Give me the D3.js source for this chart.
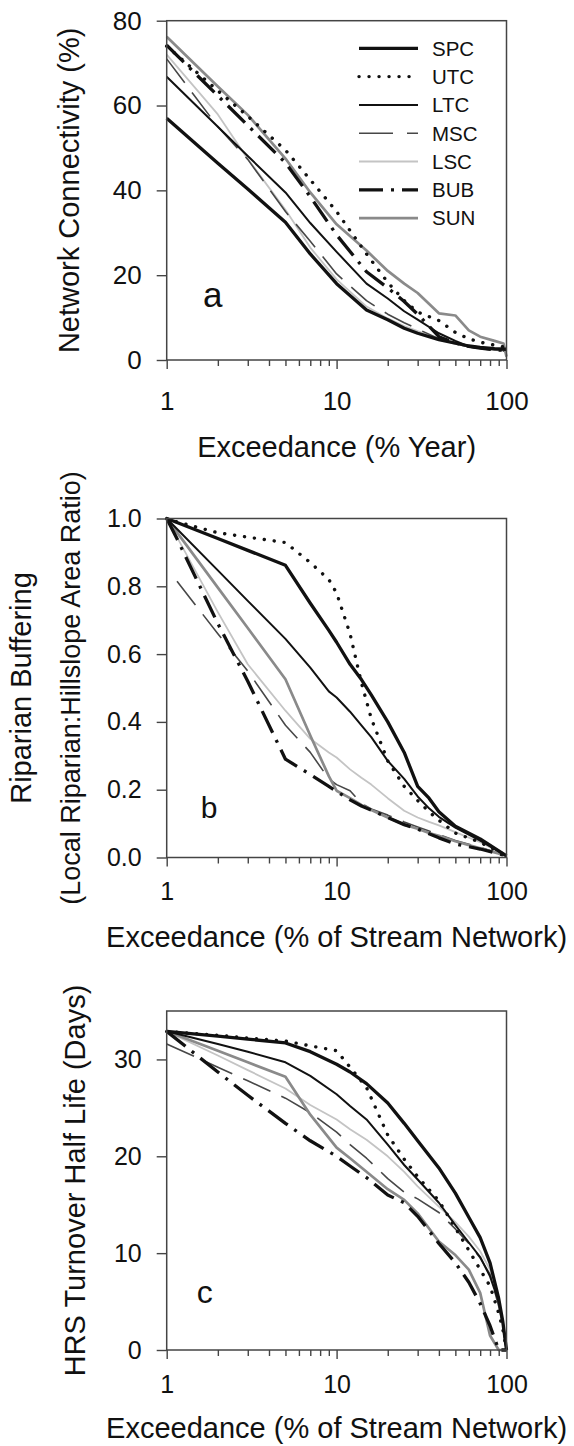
<!DOCTYPE html>
<html>
<head>
<meta charset="utf-8">
<script src="https://cdn.jsdelivr.net/npm/d3@7"></script>
<style>
  html, body { margin: 0; padding: 0; background: #fff; }
  svg { display: block; font-family: "Liberation Sans", Arial, Helvetica, sans-serif; }
</style>
</head>
<body>
<svg id="fig" width="574" height="1446"></svg>
<script>
// ---------- data ----------
const seriesNames = ["SPC", "UTC", "LTC", "MSC", "LSC", "BUB", "SUN"];

// (a) network connectivity (%) vs exceedance (% year)
const exceedA = [1, 2, 3, 5, 7, 10, 15, 20, 25, 30, 40, 50, 60, 70, 85, 96, 100];
const spcA = [57.0, 46.4, 40.3, 32.5, 25.0, 18.0, 11.8, 9.5, 7.5, 6.3, 4.8, 4.0, 3.3, 3.0, 2.7, 2.6, 2.5];
const utcA = [74.0, 63.5, 57.5, 49.5, 42.5, 35.0, 25.0, 18.3, 14.0, 11.3, 9.3, 6.5, 5.0, 4.2, 3.5, 3.1, 3.0];
const ltcA = [66.8, 55.0, 48.1, 39.5, 32.3, 25.5, 18.0, 14.5, 11.5, 9.5, 6.3, 4.5, 3.2, 2.8, 2.5, 2.4, 2.4];
const mscA = [71.0, 55.0, 47.3, 35.0, 28.0, 20.3, 14.0, 10.8, 8.8, 7.3, 5.0, 3.8, 3.1, 2.7, 2.3, 2.1, 2.0];
const lscA = [72.0, 57.9, 47.4, 35.4, 26.5, 19.0, 12.6, 9.8, 8.0, 6.8, 5.0, 3.8, 3.2, 2.8, 2.4, 2.1, 2.0];
const bubA = [74.2, 62.3, 55.3, 46.5, 38.5, 29.5, 20.8, 17.0, 13.8, 10.8, 5.5, 4.0, 3.2, 2.8, 2.4, 2.3, 2.2];
const sunA = [76.2, 64.5, 57.8, 47.5, 39.5, 32.0, 25.8, 21.0, 18.0, 15.8, 11.0, 10.5, 7.0, 5.5, 4.5, 3.9, 0.8];

// (b) riparian buffering ratio vs exceedance (% of stream network)
const exceedB = [1, 1.15, 2, 3, 5, 7, 9, 10, 12, 14, 16, 20, 25, 30, 35, 40, 50, 70, 100];
const spcB = [1.0, 0.988, 0.941, 0.906, 0.862, 0.75, 0.67, 0.635, 0.57, 0.525, 0.48, 0.40, 0.31, 0.21, 0.175, 0.135, 0.092, 0.055, 0.005];
const utcB = [1.0, 0.99, 0.958, 0.945, 0.929, 0.87, 0.82, 0.78, 0.66, 0.515, 0.41, 0.285, 0.21, 0.168, 0.135, 0.11, 0.072, 0.045, 0.005];
const ltcB = [1.0, 0.969, 0.847, 0.757, 0.645, 0.56, 0.49, 0.472, 0.43, 0.39, 0.355, 0.285, 0.232, 0.18, 0.145, 0.12, 0.088, 0.05, 0.005];
const mscB = [null, 0.815, 0.66, 0.55, 0.39, 0.31, 0.232, 0.215, 0.197, 0.16, 0.143, 0.125, 0.105, 0.09, 0.078, 0.068, 0.05, 0.03, 0.005];
const lscB = [1.0, 0.945, 0.724, 0.57, 0.433, 0.35, 0.31, 0.295, 0.26, 0.235, 0.215, 0.175, 0.138, 0.118, 0.105, 0.095, 0.075, 0.045, 0.005];
const bubB = [1.0, 0.94, 0.69, 0.52, 0.29, 0.245, 0.21, 0.195, 0.17, 0.152, 0.14, 0.118, 0.097, 0.084, 0.07, 0.058, 0.04, 0.025, 0.005];
const sunB = [1.0, 0.959, 0.796, 0.677, 0.526, 0.36, 0.24, 0.197, 0.175, 0.155, 0.14, 0.118, 0.097, 0.085, 0.072, 0.064, 0.048, 0.027, 0.005];

// (c) HRS turnover half life (days) vs exceedance (% of stream network)
const exceedC = [1, 2, 3, 5, 7, 10, 12, 15, 20, 25, 30, 40, 50, 60, 70, 80, 90, 95, 100];
const spcC = [32.9, 32.4, 32.1, 31.7, 30.8, 29.5, 28.7, 27.5, 25.5, 23.4, 21.6, 18.8, 16.2, 13.7, 11.6, 9.0, 5.3, 3.0, 0];
const utcC = [32.9, 32.5, 32.2, 31.9, 31.4, 30.9, 29.2, 27.1, 22.2, 19.7, 17.9, 15.4, 12.6, 10.3, 8.3, 6.6, 3.8, 2.2, 0];
const ltcC = [32.9, 31.6, 30.8, 29.7, 28.3, 26.4, 25.2, 23.8, 21.2, 19.1, 17.6, 15.2, 12.9, 11.1, 9.6, 7.6, 5.0, 3.0, 0];
const mscC = [31.6, 29.2, 27.8, 26.0, 24.5, 22.5, 21.2, 19.8, 17.7, 16.3, 15.6, 14.2, 12.5, 11.0, 9.5, 7.8, 4.5, 2.5, 0];
const lscC = [32.9, 30.4, 28.9, 27.0, 25.3, 23.8, 22.8, 21.7, 20.0, 18.4, 16.9, 14.8, 13.2, 11.7, 10.2, 8.3, 4.8, 2.7, 0];
const bubC = [32.9, 28.7, 26.3, 23.4, 21.6, 20.0, 19.0, 17.8, 16.0, 15.2, 13.8, 11.0, 9.0, 7.0, 4.8, 2.5, 0, 0, 0];
const sunC = [32.9, 30.9, 29.7, 28.2, 24.3, 20.9, 19.8, 18.4, 16.6, 15.5, 14.1, 11.2, 9.8, 8.3, 5.9, 1.5, 0, 0, 0];

// axis ticks
const xMajorTicks = [1, 10, 100];
const xMinorTicks = [2, 3, 4, 5, 6, 7, 8, 9, 20, 30, 40, 50, 60, 70, 80, 90];
const yTicksA = [0, 20, 40, 60, 80];
const yTicksB = [0, 0.2, 0.4, 0.6, 0.8, 1.0];
const yTicksC = [0, 10, 20, 30];

// ---------- line styles ----------
const styles = {
  SPC: { stroke: "#111", width: 3.3, dash: null, cap: "butt" },
  UTC: { stroke: "#111", width: 3.4, dash: "0.1 9.9", cap: "round" },
  LTC: { stroke: "#111", width: 2.0, dash: null, cap: "butt" },
  MSC: { stroke: "#474747", width: 1.6, dash: "30 12", cap: "butt" },
  LSC: { stroke: "#c4c4c4", width: 1.8, dash: null, cap: "butt" },
  BUB: { stroke: "#111", width: 3.3, dash: "24 8 3 8", cap: "butt" },
  SUN: { stroke: "#8a8a8a", width: 2.7, dash: null, cap: "butt" }
};
const drawOrder = ["LSC", "MSC", "SUN", "LTC", "SPC", "UTC", "BUB"];

// ---------- layout ----------
const X0 = 166.7, X1 = 506.5;
const panels = [
  {
    top: 20.7, bottom: 360, exceed: exceedA,
    series: { SPC: spcA, UTC: utcA, LTC: ltcA, MSC: mscA, LSC: lscA, BUB: bubA, SUN: sunA },
    yDomain: [0, 80], yTicks: yTicksA, fmt: d3.format("d"), tickFont: 26, xPad: 22.5,
    letter: "a", letterX: 203, letterY: 307, letterSize: 35,
    xTitle: "Exceedance (% Year)", xTitleY: 457,
    yTitles: [{ text: "Network Connectivity (%)", x: 79, size: 29 }],
    legend: true
  },
  {
    top: 518.5, bottom: 857.5, exceed: exceedB,
    series: { SPC: spcB, UTC: utcB, LTC: ltcB, MSC: mscB, LSC: lscB, BUB: bubB, SUN: sunB },
    yDomain: [0, 1], yTicks: yTicksB, fmt: d3.format(".1f"), tickFont: 25, xPad: 15.5,
    letter: "b", letterX: 200.7, letterY: 818, letterSize: 30,
    xTitle: "Exceedance (% of Stream Network)", xTitleY: 947,
    yTitles: [
      { text: "Riparian Buffering", x: 31, size: 29 },
      { text: "(Local Riparian:Hillslope Area Ratio)", x: 80, size: 27 }
    ],
    legend: false
  },
  {
    top: 1011, bottom: 1350, exceed: exceedC,
    series: { SPC: spcC, UTC: utcC, LTC: ltcC, MSC: mscC, LSC: lscC, BUB: bubC, SUN: sunC },
    yDomain: [0, 35], yTicks: yTicksC, fmt: d3.format("d"), tickFont: 25, xPad: 16,
    letter: "c", letterX: 196.7, letterY: 1303, letterSize: 32,
    xTitle: "Exceedance (% of Stream Network)", xTitleY: 1438,
    yTitles: [{ text: "HRS Turnover Half Life (Days)", x: 85, size: 29 }],
    legend: false
  }
];

const svg = d3.select("#fig");
const x = d3.scaleLog().domain([1, 100]).range([X0, X1]);
const xMid = (X0 + X1) / 2;

panels.forEach(p => {
  const y = d3.scaleLinear().domain(p.yDomain).range([p.bottom, p.top]);
  const g = svg.append("g");

  // curves
  const line = d3.line()
    .defined(d => d.v !== null)
    .x(d => x(d.e))
    .y(d => y(d.v));
  drawOrder.forEach(name => {
    const st = styles[name];
    const pts = p.exceed.map((e, i) => ({ e: e, v: p.series[name][i] }));
    g.append("path")
      .datum(pts)
      .attr("d", line)
      .attr("fill", "none")
      .attr("stroke", st.stroke)
      .attr("stroke-width", st.width)
      .attr("stroke-linecap", st.cap)
      .attr("stroke-linejoin", "round")
      .attr("stroke-dasharray", st.dash);
  });

  // frame
  g.append("rect")
    .attr("x", X0).attr("y", p.top)
    .attr("width", X1 - X0).attr("height", p.bottom - p.top)
    .attr("fill", "none").attr("stroke", "#444").attr("stroke-width", 1.5);

  // x axis: minor then major ticks
  const minorAxis = g.append("g")
    .attr("transform", `translate(0,${p.bottom})`)
    .call(d3.axisBottom(x).tickValues(xMinorTicks).tickSize(6).tickFormat(""));
  minorAxis.select(".domain").remove();
  const majorAxis = g.append("g")
    .attr("transform", `translate(0,${p.bottom})`)
    .call(d3.axisBottom(x).tickValues(xMajorTicks).tickSize(9).tickPadding(p.xPad).tickFormat(d3.format("d")));
  majorAxis.select(".domain").remove();

  // y axis
  const yAxis = g.append("g")
    .attr("transform", `translate(${X0},0)`)
    .call(d3.axisLeft(y).tickValues(p.yTicks).tickSize(10).tickPadding(15).tickFormat(p.fmt));
  yAxis.select(".domain").remove();

  [minorAxis, majorAxis, yAxis].forEach(a => {
    a.selectAll(".tick line").attr("stroke", "#444").attr("stroke-width", 1.4);
    a.selectAll(".tick text")
      .attr("fill", "#111")
      .style("font-size", p.tickFont + "px")
      .style("font-family", "'Liberation Sans', Arial, sans-serif");
  });

  // panel letter
  g.append("text")
    .attr("x", p.letterX).attr("y", p.letterY)
    .attr("fill", "#111")
    .style("font-size", p.letterSize + "px")
    .text(p.letter);

  // axis titles
  g.append("text")
    .attr("x", xMid).attr("y", p.xTitleY)
    .attr("text-anchor", "middle")
    .attr("fill", "#111")
    .style("font-size", "29px")
    .text(p.xTitle);

  const yc = (p.top + p.bottom) / 2;
  p.yTitles.forEach(t => {
    g.append("text")
      .attr("transform", `translate(${t.x},${yc}) rotate(-90)`)
      .attr("text-anchor", "middle")
      .attr("fill", "#111")
      .style("font-size", t.size + "px")
      .text(t.text);
  });

  // legend
  if (p.legend) {
    const lg = g.append("g");
    seriesNames.forEach((name, i) => {
      const st = styles[name];
      const ly = 48.3 + i * 28.3;
      lg.append("line")
        .attr("x1", 359).attr("x2", 418)
        .attr("y1", ly).attr("y2", ly)
        .attr("stroke", st.stroke)
        .attr("stroke-width", st.width)
        .attr("stroke-linecap", st.cap)
        .attr("stroke-dasharray", name === "MSC" ? "34 14" : st.dash);
      lg.append("text")
        .attr("x", 432).attr("y", ly)
        .attr("dy", "0.36em")
        .attr("fill", "#111")
        .style("font-size", "20.5px")
        .text(name);
    });
  }
});
</script>
</body>
</html>
